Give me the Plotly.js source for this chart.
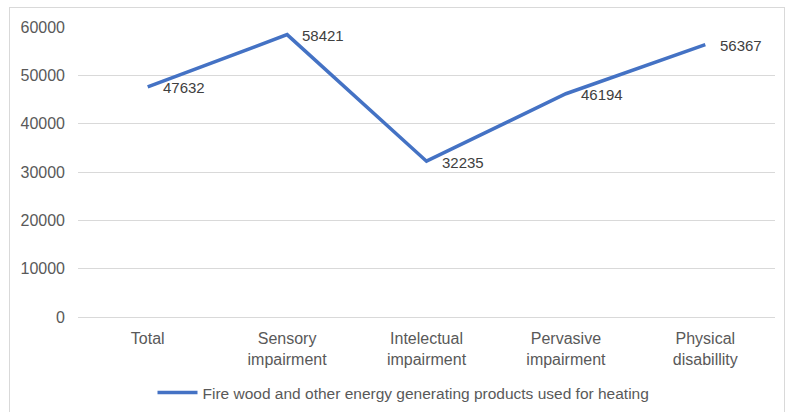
<!DOCTYPE html>
<html>
<head>
<meta charset="utf-8">
<script src="https://cdn.plot.ly/plotly-3.0.1.min.js"></script>
<style>
  html, body { margin: 0; padding: 0; background: #ffffff; }
  #chart { width: 785px; height: 412px; }
  #frame { position: absolute; left: 9px; top: 7px; width: 776px; height: 406px; border: 1px solid #d9d9d9; box-sizing: border-box; pointer-events: none; }
</style>
</head>
<body>
<div id="chart"></div>
<div id="frame"></div>
<script>
const categories = ["Total", "Sensory<br>impairment", "Intelectual<br>impairment", "Pervasive<br>impairment", "Physical<br>disabillity"];
const values = [47632, 58421, 32235, 46194, 56367];
const seriesName = "Fire wood and other energy generating products used for heating";
const yTicks = [0, 10000, 20000, 30000, 40000, 50000, 60000];

const trace = {
  type: "scatter",
  mode: "lines",
  x: categories,
  y: values,
  name: seriesName,
  line: { color: "#4472C4", width: 3.5 },
  hoverinfo: "x+y"
};

const annotations = categories.map((c, i) => ({
  x: c, y: values[i], xref: "x", yref: "y",
  text: String(values[i]),
  showarrow: false,
  xanchor: "left", yanchor: "middle",
  xshift: 13, yshift: -1,
  font: { family: "Liberation Sans, Arial, sans-serif", size: 15, color: "#404040" }
}));

const layout = {
  width: 785, height: 412,
  margin: { l: 78, r: 10, t: 27, b: 95, autoexpand: false },
  paper_bgcolor: "#ffffff",
  plot_bgcolor: "#ffffff",
  font: { family: "Liberation Sans, Arial, sans-serif", size: 16, color: "#595959" },
  showlegend: true,
  legend: {
    orientation: "h", x: 0.467, xanchor: "center", y: -0.262, yanchor: "middle",
    font: { size: 15.5, color: "#595959" }, itemwidth: 40
  },
  xaxis: {
    type: "category",
    range: [-0.5, 4.5],
    automargin: false,
    showgrid: false, showline: false, zeroline: false, ticks: "",
    tickfont: { size: 16, color: "#595959" },
    ticklabelstandoff: 10,
    fixedrange: true
  },
  yaxis: {
    range: [0, 60000],
    automargin: false,
    tickvals: yTicks,
    ticktext: yTicks.map(String),
    showgrid: true, gridcolor: "#d9d9d9", gridwidth: 1,
    zeroline: true, zerolinecolor: "#d9d9d9", zerolinewidth: 1,
    showline: false, ticks: "",
    tickfont: { size: 16, color: "#595959" },
    ticklabelstandoff: 12,
    fixedrange: true
  },
  annotations: annotations
};

Plotly.newPlot("chart", [trace], layout, { displayModeBar: false, staticPlot: false });
</script>
</body>
</html>
